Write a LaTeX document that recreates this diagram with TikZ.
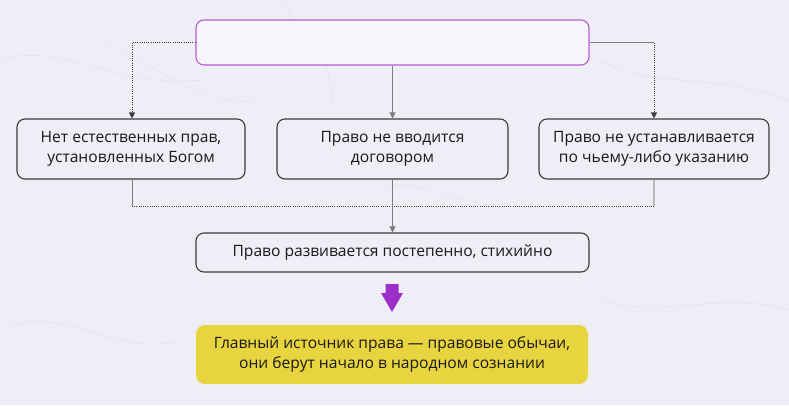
\documentclass[tikz,border=0pt]{standalone}
\usepackage{fontspec}
\setmainfont{Open Sans}
\usetikzlibrary{arrows.meta}
\definecolor{bgc}{HTML}{EFEEF7}
\definecolor{vein}{HTML}{E3E2EC}
\definecolor{boxline}{HTML}{3A3A3E}
\definecolor{topline}{HTML}{B85AD8}
\definecolor{conn}{HTML}{7A7A80}
\definecolor{lightconn}{HTML}{B8B8BE}
\definecolor{purp}{HTML}{9C2FC9}
\definecolor{yel}{HTML}{E8D43E}
\tikzset{
  box/.style={draw=boxline, line width=1.1pt, rounded corners=8pt, align=center,
    inner sep=0pt, font=\fontsize{15.6}{20.5}\selectfont, text=black!90},
  topbox/.style={draw=topline, line width=1.1pt, rounded corners=8pt, fill=bgc!60!white},
  ybox/.style={fill=yel, rounded corners=9pt, align=center, inner sep=0pt,
    font=\fontsize{15.6}{20.5}\selectfont, text=black!90},
  dotline/.style={draw=boxline, line width=0.9pt, dash pattern=on 0.9pt off 1.3pt},
  solidline/.style={draw=conn, line width=0.9pt},
  lightline/.style={draw=lightconn, line width=1.2pt},
  tip/.style={-{Triangle[width=6pt,length=6pt]}},
}
\begin{document}
\begin{tikzpicture}[x=1pt,y=-1pt]
\fill[bgc] (0,0) rectangle (789,405);
\useasboundingbox (0,0) rectangle (789,405);
% faint marble veins
\draw[vein, line width=0.5pt] (0,60) .. controls (60,40) and (120,90) .. (200,80);
\draw[vein, line width=0.5pt] (100,40) .. controls (150,60) and (200,110) .. (260,100);
\draw[vein, line width=0.5pt] (380,190) .. controls (420,170) and (470,220) .. (520,200);
\draw[vein, line width=0.5pt] (600,60) .. controls (650,90) and (700,70) .. (789,100);
\draw[vein, line width=0.5pt] (0,330) .. controls (60,300) and (120,360) .. (180,340);
\draw[vein, line width=0.5pt] (600,300) .. controls (660,320) and (720,290) .. (789,310);
\draw[vein, line width=0.5pt] (280,0) .. controls (300,30) and (340,60) .. (330,110);

\node[topbox, minimum width=393pt, minimum height=45pt] (top) at (392.5,42.5) {};
\node[box, minimum width=228pt, minimum height=60pt] (l) at (131,149) {Нет естественных прав,\\установленных Богом};
\node[box, minimum width=231pt, minimum height=60pt] (m) at (392.5,149) {Право не вводится\\договором};
\node[box, minimum width=230pt, minimum height=60pt] (r) at (654,149) {Право не устанавливается\\по чьему-либо указанию};
\node[box, minimum width=393pt, minimum height=39pt] (b) at (392.5,252.5) {Право развивается постепенно, стихийно};
\node[ybox, minimum width=392pt, minimum height=59pt] (y) at (392,354.5) {Главный источник права — правовые обычаи,\\они берут начало в народном сознании};

% top to three
\draw[dotline, tip] (top.west) -| ([xshift=1pt]l.north);
\draw[solidline, tip] (top.south) -- (m.north);
\coordinate (rc) at (top.east -| r.north);
\draw[solidline] (top.east) -- (rc);
\draw[dotline, tip] (rc) -- (r.north);

% three to bottom
\coordinate (jl) at ([xshift=1pt]l.south |- 0,206);
\coordinate (jr) at (r.south |- 0,206);
\draw[solidline] ([xshift=1pt]l.south) -- (jl);
\draw[lightline] (r.south) -- (jr);
\draw[dotline] (jl) -- (jr);
\draw[solidline, tip] (m.south) -- (b.north);

% purple arrow
\fill[purp] (385.5,284) -- (398.5,284) -- (398.5,293) -- (403,293) -- (392,312) -- (381,293) -- (385.5,293) -- cycle;
\end{tikzpicture}
\end{document}
